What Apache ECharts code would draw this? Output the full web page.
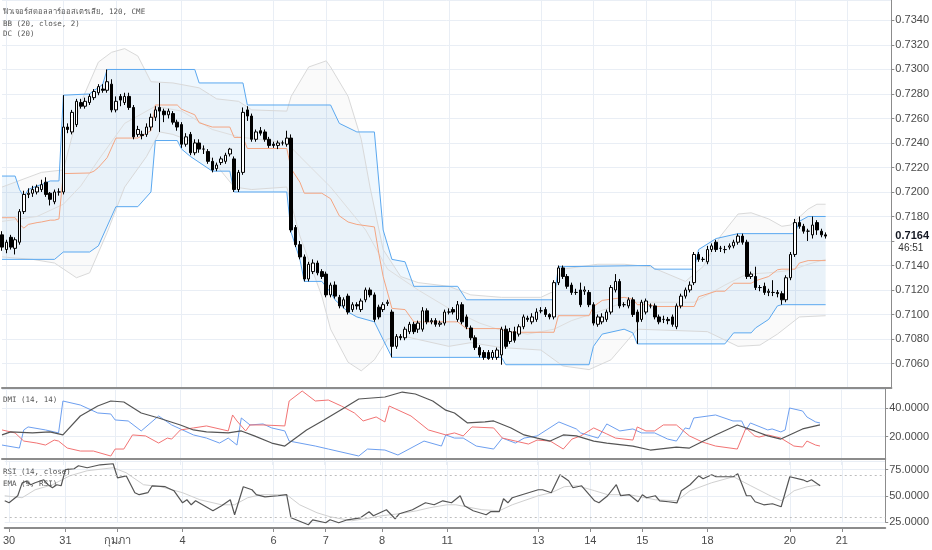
<!DOCTYPE html>
<html><head><meta charset="utf-8">
<script src="https://cdn.jsdelivr.net/npm/echarts@6/dist/echarts.min.js"></script>
<style>html,body{margin:0;padding:0;background:#fff}#c{width:932px;height:550px}</style>
</head><body><div id="c"></div>
<script>
// ---------------- data ----------------
const instrumentTitle = 'ฟิวเจอร์สดอลลาร์ออสเตรเลีย, 120, CME';
const bbTitle = 'BB (20, close, 2)';
const dcTitle = 'DC (20)';
const dmiTitle = 'DMI (14, 14)';
const rsiTitle = 'RSI (14, close)';
const emaTitle = 'EMA (9, RSI)';
const countdownText = '46:51';

const opens = [.7165,.7153,.7163,.7154,.7159,.7184,.7198,.7199,.7200,.7202,
.7208,.7199,.7192,.7200,.7200,.7253,.7249,.7255,.7273,.7270,
.7273,.7277,.7281,.7284,.7283,.7288,.7267,.7278,.7273,.7278,
.7269,.7247,.7247,.7247,.7253,.7261,.7269,.7266,.7263,.7264,
.7257,.7255,.7239,.7247,.7232,.7240,.7235,.7233,.7225,.7219,
.7224,.7225,.7231,.7227,.7202,.7216,.7267,.7262,.7243,.7250,
.7249,.7243,.7239,.7238,.7240,.7239,.7244,.7171,.7157,.7147,
.7129,.7135,.7142,.7135,.7133,.7116,.7124,.7114,.7107,.7115,
.7104,.7108,.7104,.7112,.7120,.7116,.7106,.7104,.7109,.7102,
.7074,.7082,.7081,.7086,.7092,.7088,.7088,.7103,.7094,.7095,
.7092,.7093,.7102,.7104,.7096,.7108,.7098,.7089,.7081,.7073,
.7069,.7069,.7065,.7065,.7067,.7088,.7078,.7086,.7084,.7090,
.7097,.7094,.7096,.7103,.7104,.7100,.7098,.7126,.7138,.7131,
.7124,.7118,.7120,.7119,.7118,.7108,.7092,.7094,.7096,.7102,
.7120,.7127,.7108,.7107,.7112,.7102,.7096,.7102,.7107,.7107,
.7098,.7096,.7096,.7098,.7090,.7107,.7115,.7120,.7126,.7149,
.7145,.7143,.7153,.7159,.7154,.7153,.7155,.7156,.7159,.7164,
.7159,.7131,.7131,.7122,.7123,.7118,.7118,.7118,.7117,.7112,
.7130,.7149,.7175,.7172,.7168,.7165,.7175,.7168,.7165];
const highs = [.7168,.7161,.7165,.7163,.7186,.7201,.7203,.7205,.7206,.7210,
.7212,.7200,.7202,.7203,.7279,.7256,.7267,.7276,.7276,.7277,
.7280,.7284,.7288,.7288,.7300,.7292,.7278,.7280,.7281,.7281,
.7271,.7254,.7250,.7256,.7264,.7270,.7289,.7268,.7268,.7266,
.7259,.7257,.7248,.7249,.7243,.7243,.7238,.7235,.7228,.7224,
.7229,.7232,.7236,.7229,.7218,.7269,.7270,.7264,.7251,.7253,
.7251,.7245,.7241,.7242,.7242,.7250,.7247,.7173,.7160,.7149,
.7143,.7145,.7144,.7137,.7135,.7126,.7127,.7116,.7114,.7117,
.7110,.7110,.7113,.7122,.7122,.7118,.7108,.7110,.7112,.7104,
.7084,.7084,.7090,.7094,.7094,.7095,.7106,.7105,.7097,.7097,
.7095,.7104,.7105,.7106,.7111,.7110,.7100,.7091,.7083,.7075,
.7071,.7071,.7071,.7073,.7090,.7091,.7089,.7090,.7092,.7100,
.7099,.7101,.7105,.7106,.7106,.7101,.7128,.7140,.7140,.7133,
.7126,.7121,.7126,.7123,.7120,.7110,.7100,.7101,.7104,.7124,
.7133,.7129,.7110,.7114,.7114,.7104,.7112,.7113,.7109,.7109,
.7100,.7099,.7098,.7100,.7109,.7117,.7122,.7127,.7151,.7151,
.7147,.7156,.7158,.7161,.7156,.7156,.7158,.7161,.7166,.7166,
.7161,.7135,.7139,.7124,.7126,.7121,.7128,.7120,.7119,.7132,
.7151,.7178,.7180,.7174,.7170,.7180,.7177,.7170,.7167];
const lows = [.7152,.7150,.7153,.7149,.7157,.7182,.7195,.7196,.7198,.7200,
.7196,.7189,.7190,.7197,.7198,.7248,.7247,.7253,.7268,.7268,
.7271,.7275,.7279,.7281,.7281,.7265,.7265,.7270,.7271,.7267,
.7243,.7245,.7243,.7245,.7250,.7258,.7249,.7257,.7260,.7255,
.7250,.7236,.7237,.7230,.7230,.7232,.7231,.7223,.7216,.7217,
.7222,.7223,.7229,.7200,.7200,.7214,.7258,.7241,.7241,.7246,
.7241,.7236,.7236,.7235,.7238,.7237,.7167,.7155,.7145,.7127,
.7127,.7133,.7132,.7129,.7114,.7114,.7113,.7105,.7105,.7100,
.7102,.7104,.7102,.7110,.7114,.7094,.7096,.7102,.7107,.7065,
.7072,.7079,.7079,.7084,.7084,.7085,.7086,.7092,.7092,.7090,
.7090,.7091,.7100,.7100,.7094,.7092,.7088,.7079,.7071,.7065,
.7063,.7063,.7063,.7063,.7059,.7072,.7076,.7077,.7082,.7088,
.7094,.7092,.7094,.7101,.7098,.7096,.7096,.7124,.7129,.7121,
.7116,.7116,.7106,.7116,.7106,.7091,.7090,.7092,.7094,.7100,
.7118,.7105,.7106,.7105,.7098,.7076,.7094,.7100,.7105,.7096,
.7092,.7093,.7092,.7090,.7088,.7105,.7113,.7118,.7124,.7143,
.7143,.7141,.7151,.7151,.7151,.7150,.7153,.7154,.7157,.7157,
.7129,.7129,.7120,.7119,.7116,.7115,.7115,.7114,.7108,.7110,
.7128,.7147,.7170,.7166,.7160,.7162,.7165,.7163,.7162];
const closes = [.7155,.7159,.7155,.7161,.7184,.7198,.7199,.7202,.7204,.7206,
.7198,.7194,.7200,.7200,.7253,.7251,.7265,.7274,.7270,.7274,
.7278,.7282,.7286,.7283,.7290,.7267,.7274,.7275,.7278,.7269,
.7245,.7251,.7246,.7253,.7261,.7267,.7266,.7263,.7266,.7257,
.7253,.7239,.7245,.7232,.7240,.7235,.7235,.7225,.7218,.7222,
.7227,.7230,.7235,.7202,.7216,.7265,.7262,.7243,.7249,.7248,
.7243,.7238,.7238,.7240,.7240,.7244,.7169,.7157,.7147,.7129,
.7141,.7142,.7134,.7131,.7116,.7124,.7115,.7107,.7112,.7102,
.7108,.7107,.7111,.7120,.7116,.7096,.7098,.7108,.7110,.7074,
.7082,.7081,.7088,.7092,.7086,.7093,.7103,.7094,.7095,.7092,
.7093,.7102,.7102,.7102,.7108,.7094,.7090,.7081,.7073,.7067,
.7065,.7064,.7069,.7071,.7088,.7074,.7086,.7079,.7090,.7098,
.7096,.7098,.7102,.7103,.7100,.7098,.7126,.7138,.7131,.7123,
.7118,.7118,.7108,.7120,.7108,.7093,.7098,.7098,.7102,.7122,
.7127,.7107,.7108,.7112,.7100,.7094,.7110,.7111,.7107,.7098,
.7094,.7096,.7095,.7092,.7107,.7115,.7120,.7124,.7149,.7145,
.7145,.7153,.7156,.7153,.7154,.7153,.7156,.7159,.7164,.7159,
.7131,.7133,.7122,.7122,.7118,.7119,.7118,.7117,.7112,.7130,
.7149,.7175,.7172,.7168,.7168,.7173,.7169,.7165,.7164];

// x-axis: bar slots (incl. empty future space) and day labels
const slotCount = 204;
const dayTickBars = [1,14,26,41,62,74,87,102,123,135,147,162,181,193];
const dayTickLabels = ['30','31','กุมภา','4','6','7','8','11','13','14','15','18','20','21'];

// Donchian channel [bar, price]
const dcUpper = [[0,.7213],[3,.7213],[4,.7202],[5,.7196],[6,.7202],[8,.7205],[9,.7206],[11,.7209],[13,.7209],[14,.7279],[20,.7280],[21,.7283],[22,.7285],[23,.7288],[24,.7300],[44,.7300],[45,.7289],[55,.7289],[56,.7271],[75,.7271],[77,.7256],[81,.7249],[85,.7249],[87,.7169],[89,.7145],[92,.7143],[94,.7123],[104,.7123],[106,.7112],[126,.7112],[127,.7139],[148,.7140],[149,.7137],[158,.7137],[159,.7153],[163,.7162],[168,.7166],[181,.7166],[182,.7176],[184,.7180],[188,.7180]];
const dcLower = [[0,.7145],[12,.7145],[14,.7151],[20,.7151],[22,.7156],[26,.7188],[31,.7188],[34,.7200],[35,.7242],[40,.7242],[41,.7235],[43,.7229],[48,.7217],[52,.7217],[53,.7200],[65,.7200],[66,.7167],[68,.7145],[69,.7127],[73,.7127],[75,.7118],[76,.7112],[79,.7102],[81,.7098],[85,.7094],[89,.7065],[114,.7065],[115,.7059],[134,.7059],[135,.7074],[137,.7084],[142,.7088],[144,.7085],[145,.7076],[165,.7076],[167,.7085],[171,.7085],[172,.7089],[175,.7096],[177,.7107],[178,.7108],[188,.7108]];
const dcMiddle = [[0,.7179],[3,.7179],[4,.71735],[5,.71705],[6,.71735],[8,.7175],[9,.71755],[11,.7177],[12,.7177],[13,.7178],[14,.7215],[20,.72155],[21,.7217],[22,.7220],[24,.7228],[26,.7244],[31,.7244],[34,.7250],[35,.7271],[40,.7271],[41,.72675],[43,.72645],[44,.7263],[45,.72565],[48,.7253],[52,.7253],[53,.72445],[55,.72445],[56,.72355],[65,.72355],[66,.7219],[68,.7208],[69,.7199],[73,.7199],[75,.71945],[77,.71805],[79,.71755],[81,.71735],[85,.71715],[86,.7150],[87,.7131],[89,.7105],[92,.7104],[94,.7094],[104,.7094],[106,.70885],[114,.70885],[115,.70855],[126,.70855],[127,.7099],[134,.7099],[135,.71065],[137,.71115],[142,.7114],[144,.71125],[145,.7108],[148,.7108],[149,.71065],[158,.71065],[159,.71145],[163,.7119],[165,.7119],[167,.71255],[171,.71255],[172,.71275],[175,.7131],[177,.71365],[178,.7137],[181,.7137],[182,.7142],[184,.7144],[188,.7144]];

// Bollinger bands [bar, price]
const bbUpper = [[0,.7204],[9,.7216],[14,.7218],[18,.7273],[22,.7306],[25,.7314],[28,.7317],[31,.7311],[34,.7290],[39,.7289],[45,.7285],[49,.7276],[54,.7274],[57,.7267],[65,.7266],[66,.7278],[70,.7302],[74,.7307],[75,.7302],[79,.7278],[82,.7243],[84,.7204],[87,.7153],[91,.7131],[95,.7126],[102,.7123],[107,.7116],[114,.7114],[123,.7114],[126,.7119],[128,.7137],[136,.7141],[142,.7141],[148,.7139],[156,.7127],[160,.7139],[164,.7164],[168,.7182],[171,.7183],[175,.7178],[178,.7172],[180,.7173],[184,.7186],[186,.7190],[188,.7190]];
const bbBasis = [[0,.7176],[8,.7180],[14,.7190],[18,.7205],[22,.7226],[28,.7256],[35,.7270],[41,.7266],[48,.7251],[54,.7245],[65,.7240],[68,.7229],[75,.7204],[83,.7169],[88,.7137],[95,.7120],[102,.7105],[109,.7093],[114,.7087],[120,.7084],[126,.7088],[130,.7095],[136,.7102],[142,.7110],[150,.7110],[158,.7110],[165,.7124],[170,.7133],[175,.7134],[180,.7136],[184,.7141],[188,.7145]];
const bbLower = [[0,.7147],[7,.7145],[12,.7142],[17,.7130],[20,.7134],[24,.7167],[28,.7204],[33,.7229],[36,.7249],[39,.7247],[45,.7239],[53,.7204],[57,.7202],[65,.7204],[68,.7164],[73,.7115],[75,.7088],[79,.7061],[82,.7054],[85,.7063],[88,.7080],[92,.7082],[102,.7074],[107,.7077],[114,.7073],[123,.7071],[128,.7058],[134,.7055],[139,.7063],[145,.7088],[161,.7086],[168,.7074],[173,.7075],[177,.7084],[182,.7098],[188,.7099]];

// DMI (14,14) [bar, value]
const plusDI = [[0,14.0],[4,11.9],[5,24.6],[6,26.7],[10,24.6],[13,22.5],[14,44.9],[18,42.1],[22,36.5],[25,35.8],[26,31.6],[29,30.9],[32,23.9],[36,34.4],[39,28.1],[44,21.1],[47,18.9],[50,15.4],[52,18.9],[54,14.0],[55,33.0],[57,28.1],[60,28.8],[62,26.0],[65,23.9],[66,16.8],[72,13.3],[75,11.2],[82,6.3],[84,11.2],[88,10.5],[91,7.0],[94,11.9],[97,16.8],[101,13.3],[102,21.1],[104,18.9],[106,18.9],[109,13.3],[113,11.2],[115,18.9],[118,15.4],[120,18.9],[123,20.4],[128,30.2],[132,25.3],[133,22.5],[137,18.9],[139,28.8],[142,23.9],[145,25.3],[147,22.5],[150,22.5],[153,18.2],[155,16.8],[157,26.0],[158,25.3],[159,33.0],[164,35.1],[168,30.9],[170,30.9],[171,24.6],[172,29.5],[176,24.6],[177,25.3],[179,23.2],[180,24.6],[181,40.0],[184,37.9],[185,33.7],[187,30.2],[188,29.5]];
const minusDI = [[0,24.6],[3,22.5],[5,16.8],[8,15.4],[10,14.0],[12,17.5],[13,16.8],[15,11.9],[18,9.8],[21,9.8],[25,6.3],[26,11.2],[28,11.2],[30,21.1],[33,20.4],[36,15.4],[38,18.9],[39,18.2],[41,24.6],[44,26.0],[47,27.4],[52,23.9],[53,35.1],[54,30.9],[56,23.9],[57,28.1],[60,28.1],[65,27.4],[66,44.9],[69,51.9],[72,44.9],[75,45.6],[78,41.4],[81,36.5],[83,30.9],[86,33.7],[88,30.2],[89,41.4],[94,34.4],[98,24.6],[102,21.1],[104,22.5],[106,20.4],[108,26.7],[113,26.0],[115,18.9],[118,16.8],[121,14.7],[123,17.5],[126,16.8],[129,11.2],[131,18.2],[133,20.4],[136,26.0],[139,21.8],[141,18.9],[145,17.5],[146,26.7],[148,23.9],[150,23.9],[152,28.1],[155,28.1],[158,20.4],[161,16.1],[164,13.3],[169,11.2],[171,26.0],[173,20.4],[174,19.6],[176,21.1],[179,18.9],[182,13.3],[184,12.6],[185,16.8],[187,14.0],[188,13.3]];
const adx = [[0,21.1],[2,23.2],[7,22.5],[11,23.2],[14,21.1],[18,34.4],[22,41.4],[25,44.9],[28,44.2],[32,36.5],[36,33.0],[41,28.1],[44,24.6],[47,23.2],[52,22.5],[55,23.9],[58,20.4],[62,15.4],[65,13.3],[70,24.6],[74,31.6],[79,40.7],[82,46.3],[88,47.7],[92,51.2],[95,49.8],[99,44.9],[102,38.5],[104,36.5],[107,29.5],[111,30.2],[113,30.9],[117,26.0],[120,21.1],[123,18.9],[126,16.8],[129,21.1],[132,20.4],[136,16.8],[139,15.4],[145,13.3],[149,10.5],[155,12.6],[158,11.9],[164,21.1],[169,28.1],[173,23.9],[176,20.4],[179,18.2],[184,25.3],[188,28.1]];

// RSI (14, close) and its EMA (9) [bar, value]
const rsi = [[0,45.2],[1,43.3],[3,50.0],[4,62.0],[5,64.0],[6,60.5],[7,62.4],[9,65.2],[10,60.5],[11,57.6],[12,60.5],[13,59.5],[14,74.8],[16,75.7],[17,78.6],[19,76.7],[22,79.5],[25,80.5],[26,67.1],[28,69.0],[30,52.9],[31,51.0],[33,52.9],[34,59.5],[37,58.6],[39,54.8],[41,43.3],[42,46.2],[43,41.4],[44,45.2],[48,35.7],[50,40.5],[52,46.2],[53,31.9],[55,58.6],[57,55.7],[58,51.0],[60,49.0],[63,50.0],[65,51.0],[66,29.0],[70,22.4],[71,27.1],[74,24.3],[75,27.1],[77,24.3],[79,27.1],[82,29.0],[84,34.8],[85,31.0],[88,36.7],[90,28.1],[91,32.9],[94,36.7],[97,43.3],[99,41.4],[101,45.2],[103,43.3],[105,50.0],[106,40.5],[108,35.7],[111,31.9],[112,34.8],[114,34.8],[115,47.1],[116,43.3],[117,48.1],[120,51.9],[123,55.7],[124,55.7],[126,52.9],[128,70.0],[130,64.3],[131,57.6],[133,59.5],[136,45.2],[137,43.3],[139,50.0],[141,60.5],[142,50.0],[144,51.0],[146,44.3],[147,51.0],[148,48.1],[150,50.0],[151,45.2],[153,44.3],[155,43.3],[156,54.8],[158,60.5],[160,69.0],[161,66.2],[163,70.0],[164,68.1],[168,68.1],[169,71.0],[171,50.0],[172,50.0],[173,44.3],[175,41.4],[177,42.4],[179,39.5],[181,68.1],[184,65.2],[185,63.3],[186,65.2],[188,59.5]];
const rsiEma = [[0,50.0],[4,48.1],[7,55.7],[11,60.5],[15,69.0],[19,73.8],[25,76.7],[28,71.9],[32,60.5],[36,58.6],[41,52.9],[45,46.2],[50,41.4],[53,41.4],[56,48.1],[59,51.0],[65,51.0],[68,41.4],[72,33.8],[75,30.0],[80,26.2],[83,28.1],[87,31.0],[91,32.9],[95,35.7],[98,38.6],[102,41.4],[104,41.4],[110,36.7],[114,35.7],[117,41.4],[123,50.0],[126,52.9],[129,58.6],[132,59.5],[136,54.8],[139,51.0],[144,51.0],[150,46.2],[155,45.2],[158,54.8],[163,62.4],[168,68.1],[172,59.5],[176,51.0],[179,45.2],[182,54.8],[185,58.6],[188,60.5]];
const rsiBands = [70, 30];

// ---------------- chart ----------------
const chart = echarts.init(document.getElementById('c'), null, {renderer: 'canvas'});
const cats = [];
for (let i = 0; i < slotCount; i++) cats.push(String(i));
const tickMap = new Map(dayTickBars.map((b, k) => [b, dayTickLabels[k]]));
const isTick = (idx) => tickMap.has(idx);
const candleData = opens.map((o, i) => [o, closes[i], lows[i], highs[i]]);
const lastClose = closes[closes.length - 1];

const gridColor = '#e9eef5';
const sepColor = '#8c8c8c';
const axisFont = "'Liberation Sans Narrow', 'Liberation Sans', Arial, sans-serif";
const monoFont = "'DejaVu Sans Mono', 'Noto Sans', monospace";
const GL = 2, GR = 37;

function xAxisFor(gi, extra) {
  return Object.assign({
    type: 'category', gridIndex: gi, data: cats, boundaryGap: false,
    axisLine: {show: true, lineStyle: {color: sepColor, width: 2}},
    axisTick: {show: false}, axisLabel: {show: false},
    splitLine: {show: true, interval: (i) => isTick(i), lineStyle: {color: gridColor, width: 1}}
  }, extra || {});
}
function yAxisFor(gi, min, max, interval, digits, showMin) {
  return {
    type: 'value', gridIndex: gi, position: 'right', min: min, max: max, interval: interval,
    axisLine: {show: true, lineStyle: {color: sepColor, width: 1}},
    axisTick: {show: true, length: 3, lineStyle: {color: sepColor}},
    axisLabel: {
      show: true, margin: 4, color: '#4a4a4a', fontSize: 11, fontFamily: axisFont,
      showMinLabel: !!showMin, showMaxLabel: false,
      formatter: (v) => {
        const k = v / interval;
        if (Math.abs(k - Math.round(k)) > 1e-6) return '';
        if (gi === 0 && Math.abs(v - lastClose) < 0.0008) return '';
        return v.toFixed(digits);
      }
    },
    splitLine: {show: true, showMinLine: !!showMin, lineStyle: {color: gridColor, width: 1}}
  };
}
function band(upper, lower, fill) {
  return function (params, api) {
    const pts = [];
    upper.forEach(p => pts.push(api.coord(p)));
    for (let k = lower.length - 1; k >= 0; k--) pts.push(api.coord(lower[k]));
    return {type: 'polygon', shape: {points: pts}, style: {fill: fill}, silent: true};
  };
}
function line(name, data, color, xi, yi, extra) {
  return Object.assign({
    name: name, type: 'line', data: data, xAxisIndex: xi, yAxisIndex: yi,
    showSymbol: false, symbol: 'none', silent: true, animation: false,
    lineStyle: {color: color, width: 1}, z: 3
  }, extra || {});
}
const titleStyle = {fontFamily: monoFont, fontSize: 7.5, color: '#555', fontWeight: 'normal'};
function ttl(text, top) { return {text: text, left: 3, top: top, padding: 0, textStyle: titleStyle}; }

// last-price marker: a line from the last bar to the right edge, carrying the axis tag
const lastBar = closes.length - 1;
const lastSlot = slotCount - 1;

chart.setOption({
  animation: false,
  backgroundColor: '#ffffff',
  title: [ttl(instrumentTitle, 8), ttl(bbTitle, 20), ttl(dcTitle, 30), ttl(dmiTitle, 396), ttl(rsiTitle, 468), ttl(emaTitle, 480)],
  grid: [
    {left: GL, right: GR, top: 0, height: 388},
    {left: GL, right: GR, top: 389, height: 76},
    {left: GL, right: GR, top: 461, height: 61}
  ],
  xAxis: [
    xAxisFor(0),
    xAxisFor(1, {offset: -6}),
    xAxisFor(2, {
      offset: 6,
      axisTick: {show: true, interval: (i) => isTick(i), length: 4, lineStyle: {color: sepColor}},
      axisLabel: {show: true, interval: (i) => isTick(i), margin: 7, color: '#4a4a4a', fontSize: 11, fontFamily: axisFont,
        formatter: (v) => tickMap.get(Number(v)) || ''}
    })
  ],
  yAxis: [
    yAxisFor(0, 0.7040, 0.73567, 0.002, 4, false),
    yAxisFor(1, 0, 53.33, 20, 4, false),
    yAxisFor(2, 25, 83.1, 25, 4, true)
  ],
  series: [
    {type: 'custom', xAxisIndex: 0, yAxisIndex: 0, data: [[0, 0.72]], renderItem: band(bbUpper, bbLower, 'rgba(0,0,0,0.018)'), clip: true, silent: true, z: 1},
    {type: 'custom', xAxisIndex: 0, yAxisIndex: 0, data: [[0, 0.72]], renderItem: band(dcUpper, dcLower, 'rgba(33,150,243,0.075)'), clip: true, silent: true, z: 1},
    line('BB upper', bbUpper, '#d9d9d9', 0, 0),
    line('BB basis', bbBasis, '#dedede', 0, 0),
    line('BB lower', bbLower, '#d9d9d9', 0, 0),
    line('DC upper', dcUpper, '#5aa8f0', 0, 0),
    line('DC lower', dcLower, '#5aa8f0', 0, 0),
    line('DC basis', dcMiddle, '#f4a683', 0, 0),
    {
      name: 'candles', type: 'candlestick', xAxisIndex: 0, yAxisIndex: 0, data: candleData,
      barWidth: 3, z: 5, silent: true,
      itemStyle: {color: '#ffffff', color0: '#000000', borderColor: '#000000', borderColor0: '#000000', borderWidth: 1}
    },
    {
      name: 'last price', type: 'line', xAxisIndex: 0, yAxisIndex: 0, silent: true, animation: false,
      data: [[lastBar, lastClose], [lastSlot, lastClose]],
      showSymbol: false, symbol: 'none', lineStyle: {width: 0, opacity: 0}, z: 6,
      markLine: {
        symbol: 'none', silent: true, animation: false,
        lineStyle: {color: 'rgba(0,0,0,0)', width: 1, type: 'solid'},
        data: [
          [{coord: [lastBar, lastClose],
            label: {show: true, position: 'end', distance: 4, formatter: lastClose.toFixed(4),
              color: '#131722', fontSize: 11, fontWeight: 'bold', fontFamily: axisFont}},
           {coord: [lastSlot, lastClose]}],
          [{coord: [lastBar, lastClose],
            label: {show: true, position: 'end', distance: 7, formatter: countdownText,
              verticalAlign: 'top', lineHeight: 24,
              color: '#333333', fontSize: 10, fontFamily: axisFont}},
           {coord: [lastSlot, lastClose]}]
        ]
      }
    },
    line('+DI', plusDI, '#6d9ff0', 1, 1),
    line('-DI', minusDI, '#f27373', 1, 1),
    line('ADX', adx, '#555555', 1, 1, {lineStyle: {color: '#555555', width: 1.2}}),
    line('EMA', rsiEma, '#d0d0d0', 2, 2, {clip: false}),
    line('RSI', rsi, '#555555', 2, 2, {clip: false, lineStyle: {color: '#555555', width: 1.2},
      markLine: {symbol: 'none', silent: true, animation: false, label: {show: false},
        lineStyle: {color: '#bdbdbd', type: [2, 3], width: 1},
        data: rsiBands.map(v => ({yAxis: v}))}})
  ]
});
</script>
</body></html>
